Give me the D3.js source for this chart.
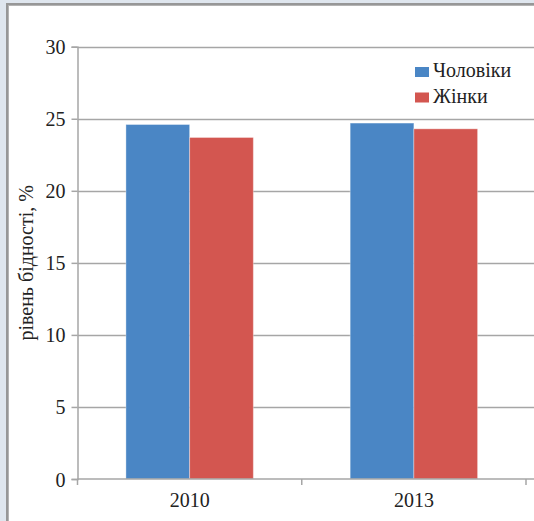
<!DOCTYPE html>
<html>
<head>
<meta charset="utf-8">
<script src="https://cdn.jsdelivr.net/npm/d3@7/dist/d3.min.js"></script>
<style>
  html, body { margin: 0; padding: 0; background: #dfe6ee; }
  svg { display: block; }
</style>
</head>
<body>
<script>
const categories = ["2010", "2013"];
const seriesNames = ["Чоловіки", "Жінки"];
const menValues = [24.6, 24.7];
const womenValues = [23.7, 24.3];
const yTicks = [0, 5, 10, 15, 20, 25, 30];
const yTitle = "рівень бідності, %";
const colors = ["#4a86c5", "#d35650"];

const FONT = "'Liberation Serif', 'Times New Roman', Tinos, 'DejaVu Serif', serif";
const W = 534, H = 521;
const svg = d3.select("body").append("svg").attr("width", W).attr("height", H);

// frame
svg.append("rect").attr("x", 0).attr("y", 0).attr("width", W).attr("height", H).attr("fill", "#dfe6ee");
svg.append("rect").attr("x", 6).attr("y", 3).attr("width", W - 6).attr("height", H - 3).attr("fill", "#979797");
svg.append("rect").attr("x", 8).attr("y", 5).attr("width", W - 8).attr("height", H - 5).attr("fill", "#b4b4b4");
svg.append("rect").attr("x", 9).attr("y", 6).attr("width", W - 9).attr("height", H - 6).attr("fill", "#ffffff");

const pLeft = 77.5, pRight = 526, pTop = 46.7, pBottom = 479;
const y = d3.scaleLinear().domain([0, 30]).range([pBottom, pTop]);
const x0 = d3.scaleBand().domain(categories).range([pLeft, pRight]).paddingInner(0).paddingOuter(0);
const x1 = d3.scaleBand().domain(seriesNames).range([0, x0.bandwidth()]).paddingInner(0).paddingOuter(0.76);

// gridlines
svg.append("g").selectAll("line").data(yTicks.filter(d => d > 0)).join("line")
  .attr("x1", pLeft).attr("x2", W).attr("y1", d => Math.round(y(d)) + 0.5).attr("y2", d => Math.round(y(d)) + 0.5)
  .attr("stroke", "#a6a6a6").attr("stroke-width", 1.5);

// bars
const data = categories.map((c, i) => ({ cat: c, vals: [menValues[i], womenValues[i]] }));
const groups = svg.append("g").selectAll("g").data(data).join("g")
  .attr("transform", d => `translate(${x0(d.cat)},0)`);
groups.selectAll("rect").data(d => d.vals.map((v, j) => ({ s: seriesNames[j], v, j }))).join("rect")
  .attr("x", d => x1(d.s)).attr("width", x1.bandwidth())
  .attr("y", d => y(d.v)).attr("height", d => pBottom - y(d.v))
  .attr("fill", d => colors[d.j])
  .attr("stroke", "#ffffff").attr("stroke-opacity", 0.35).attr("stroke-width", 1);

// y axis
const yAxis = d3.axisLeft(y).tickValues(yTicks).tickSize(6).tickPadding(6);
const gy = svg.append("g").attr("transform", `translate(${pLeft},0)`).call(yAxis);
gy.attr("font-family", null).attr("font-size", null);
gy.select(".domain").attr("stroke", "#a6a6a6").attr("stroke-width", 1.5);
gy.selectAll(".tick line").attr("stroke", "#a6a6a6").attr("stroke-width", 1.5);
gy.selectAll(".tick text").style("font-family", FONT).style("font-size", "20px").attr("fill", "#222").attr("dy", "0.35em");

// x axis
const xAxis = d3.axisBottom(x0).tickSize(0).tickPadding(14);
const gx = svg.append("g").attr("transform", `translate(0,${pBottom})`).call(xAxis);
gx.attr("font-family", null).attr("font-size", null);
gx.select(".domain").remove();
gx.append("line").attr("x1", pLeft).attr("x2", W).attr("y1", 0).attr("y2", 0).attr("stroke", "#a6a6a6").attr("stroke-width", 1.5);
const bounds = [pLeft].concat(categories.map(c => x0(c) + x0.bandwidth()));
gx.selectAll(".bnd").data(bounds).join("line").attr("class", "bnd")
  .attr("x1", d => d).attr("x2", d => d).attr("y1", 0).attr("y2", 6)
  .attr("stroke", "#a6a6a6").attr("stroke-width", 1.5);
gx.selectAll(".tick text").style("font-family", FONT).style("font-size", "20px").attr("fill", "#222").attr("dy", "0.71em");

// y title
svg.append("text").attr("transform", `translate(33,${(pTop + pBottom) / 2}) rotate(-90)`)
  .attr("text-anchor", "middle").style("font-family", FONT).style("font-size", "20px").attr("fill", "#222").text(yTitle);

// legend
const lg = svg.append("g").attr("transform", "translate(415,67)");
seriesNames.forEach((s, i) => {
  const g = lg.append("g").attr("transform", `translate(0,${i * 25.5})`);
  g.append("rect").attr("width", 14).attr("height", 10).attr("y", 0).attr("fill", colors[i]);
  g.append("text").attr("x", 18).attr("y", 10).style("font-family", FONT).style("font-size", "20px").attr("fill", "#222").text(s);
});
</script>
</body>
</html>
